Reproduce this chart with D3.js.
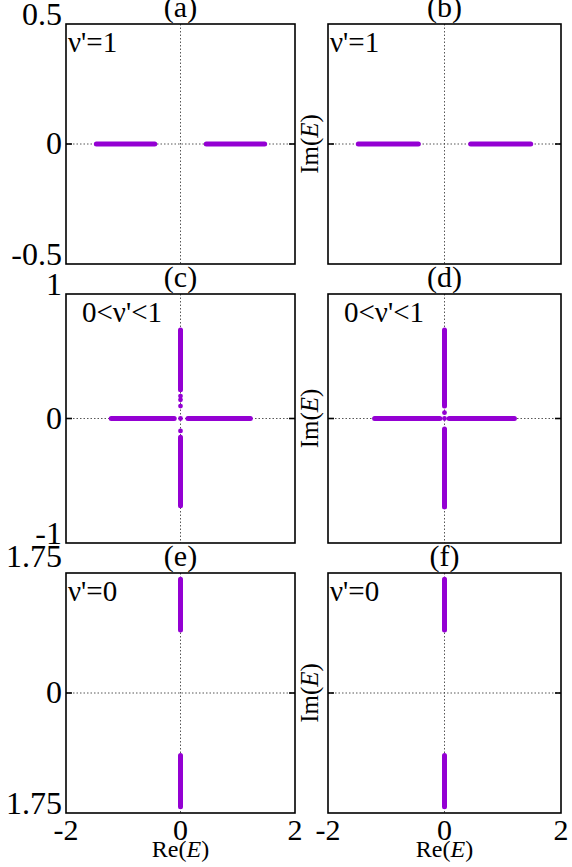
<!DOCTYPE html>
<html><head><meta charset="utf-8">
<script src="https://cdn.jsdelivr.net/npm/d3@7"></script>
<style>
html,body{margin:0;padding:0;background:#fff;}
</style></head>
<body>
<script>
// ---- data ----
const panelTitles = ["(a)","(b)","(c)","(d)","(e)","(f)"];
const panelNotes = ["ν'=1","ν'=1","0<ν'<1","0<ν'<1","ν'=0","ν'=0"];
const xDomain = [-2, 2];
const yDomains = [[-0.5, 0.5], [-1, 1], [-1.75, 1.75]];
const xTickValues = [-2, 0, 2];
const xTickLabels = ["-2", "0", "2"];
const yTickValues = [[0.5, 0, -0.5], [1, 0, -1], [1.75, 0, -1.75]];
const yTickLabels = [["0.5", "0", "-0.5"], ["1", "0", "-1"], ["1.75", "0", "1.75"]];
// spectrum branches: [Re start, Im start, Re end, Im end]
const bandsA = [[-1.47, 0, -0.45, 0], [0.45, 0, 1.47, 0]];
const bandsB = [[-1.48, 0, -0.45, 0], [0.45, 0, 1.48, 0]];
const bandsC = [[-1.21, 0, -0.11, 0], [0.13, 0, 1.22, 0], [0, 0.71, 0, 0.23], [0, -0.15, 0, -0.70]];
const bandsD = [[-1.20, 0, -0.08, 0], [0.08, 0, 1.20, 0], [0, 0.71, 0, 0.10], [0, -0.085, 0, -0.71]];
const bandsE = [[0, 1.66, 0, 0.92], [0, -0.91, 0, -1.66]];
const bandsF = [[0, 1.66, 0, 0.92], [0, -0.91, 0, -1.66]];
// isolated eigenvalues [Re, Im]
const dotsA = [];
const dotsB = [];
const dotsC = [[0, 0.18], [0, 0.15], [0, 0.10], [0, 0], [0, -0.10]];
const dotsD = [[0, 0.047], [0, 0]];
const dotsE = [];
const dotsF = [];
const allBands = [bandsA, bandsB, bandsC, bandsD, bandsE, bandsF];
const allDots = [dotsA, dotsB, dotsC, dotsD, dotsE, dotsF];

// ---- layout ----
const W = 572, H = 867;
const cols = [[66, 295], [328, 561]];
const rows = [[24, 264], [294, 543], [573, 813]];
const purple = "#9400D3";
const SERIF = "'Liberation Serif', 'Times New Roman', Times, serif";

const svg = d3.select("body").append("svg").attr("width", W).attr("height", H)
  .attr("font-family", SERIF);

function txt(sel) {
  return sel.append("text").attr("font-family", SERIF).attr("fill", "#000");
}

for (let p = 0; p < 6; p++) {
  const r = Math.floor(p / 2), c = p % 2;
  const [x0, x1] = cols[c], [y0, y1] = rows[r];
  const x = d3.scaleLinear().domain(xDomain).range([x0, x1]);
  const y = d3.scaleLinear().domain(yDomains[r]).range([y1, y0]);
  const g = svg.append("g");

  // dotted zero lines
  g.append("line").attr("x1", x0).attr("x2", x1).attr("y1", y(0)).attr("y2", y(0))
    .attr("stroke", "#444").attr("stroke-width", 0.9).attr("stroke-dasharray", "1.5,2");
  g.append("line").attr("x1", x(0)).attr("x2", x(0)).attr("y1", y0).attr("y2", y1)
    .attr("stroke", "#444").attr("stroke-width", 0.9).attr("stroke-dasharray", "1.5,2");

  // bands
  g.selectAll("line.band").data(allBands[p]).join("line").attr("class", "band")
    .attr("x1", d => x(d[0])).attr("y1", d => y(d[1]))
    .attr("x2", d => x(d[2])).attr("y2", d => y(d[3]))
    .attr("stroke", purple).attr("stroke-width", 5).attr("stroke-linecap", "round");
  g.selectAll("circle.dot").data(allDots[p]).join("circle").attr("class", "dot")
    .attr("cx", d => x(d[0])).attr("cy", d => y(d[1])).attr("r", 2.4).attr("fill", purple);

  // y ticks at 0 (inner, both sides)
  g.append("line").attr("x1", x0).attr("x2", x0 + 6).attr("y1", y(0)).attr("y2", y(0))
    .attr("stroke", "#000").attr("stroke-width", 1.6);
  g.append("line").attr("x1", x1 - 6).attr("x2", x1).attr("y1", y(0)).attr("y2", y(0))
    .attr("stroke", "#000").attr("stroke-width", 1.6);

  // frame
  g.append("rect").attr("x", x0).attr("y", y0).attr("width", x1 - x0).attr("height", y1 - y0)
    .attr("fill", "none").attr("stroke", "#000").attr("stroke-width", 1.6);

  // title
  txt(svg).attr("x", x(0)).attr("y", y0 - 7).attr("text-anchor", "middle")
    .attr("font-size", 30).text(panelTitles[p]);

  // annotation
  txt(svg).attr("x", x0 + (r === 1 ? 16 : 2)).attr("y", y0 + 28)
    .attr("font-size", 29).text(panelNotes[p]);

  // y tick labels (left column only)
  if (c === 0) {
    yTickValues[r].forEach((v, i) => {
      const off = v === 0 ? 10 : (i === 0 && r === 2 ? -6 : 1);
      txt(svg).attr("x", 62).attr("y", y(v) + off).attr("text-anchor", "end")
        .attr("font-size", 32).text(yTickLabels[r][i]);
    });
  } else {
    // Im(E) axis label
    const t = txt(svg)
      .attr("transform", `translate(${x0 - 10},${(y0 + y1) / 2}) rotate(-90)`)
      .attr("text-anchor", "middle").attr("font-size", 25);
    t.append("tspan").text("Im(");
    t.append("tspan").attr("font-style", "italic").text("E");
    t.append("tspan").text(")");
  }

  // x tick labels and label (bottom row)
  if (r === 2) {
    xTickValues.forEach((v, i) => {
      txt(svg).attr("x", x(v)).attr("y", 840).attr("text-anchor", "middle")
        .attr("font-size", 30).text(xTickLabels[i]);
    });
    const t = txt(svg).attr("x", x(0)).attr("y", 857)
      .attr("text-anchor", "middle").attr("font-size", 24);
    t.append("tspan").text("Re(");
    t.append("tspan").attr("font-style", "italic").text("E");
    t.append("tspan").text(")");
  }
}
</script>
</body></html>
